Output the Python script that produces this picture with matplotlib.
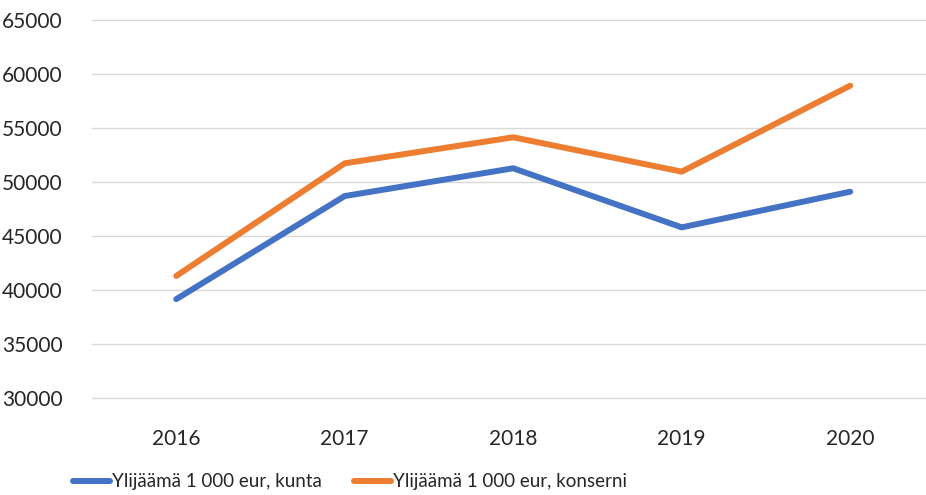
import matplotlib.pyplot as plt
from matplotlib.lines import Line2D

# Data
years = ['2016', '2017', '2018', '2019', '2020']
kunta = [39150, 48700, 51270, 45800, 49100]
konserni = [41300, 51730, 54140, 50960, 58920]
labels = ['Ylijäämä 1 000 eur, kunta', 'Ylijäämä 1 000 eur, konserni']
yticks = list(range(30000, 65001, 5000))

blue = '#4472C4'
orange = '#ED7D31'

plt.rcParams['font.family'] = ['Lato', 'DejaVu Sans']

fig = plt.figure(figsize=(9.26, 4.95), dpi=100)
ax = fig.add_axes([92 / 926, 1 - 398 / 495, 1 - 92 / 926, (398 - 20) / 495])

x = range(len(years))
ax.plot(x, kunta, color=blue, lw=4.3, solid_capstyle='round', solid_joinstyle='miter', zorder=3)
ax.plot(x, konserni, color=orange, lw=4.3, solid_capstyle='round', solid_joinstyle='miter', zorder=3)

ax.set_ylim(30000, 65000)
ax.set_xlim(-0.5, 4.45)
ax.set_yticks(yticks)
ax.set_yticklabels([str(v) for v in yticks])
ax.set_xticks(list(x))
ax.set_xticklabels(years)
ax.grid(axis='y', color='#D9D9D9', lw=1.0)
for gl in ax.get_ygridlines():
    gl.set_clip_on(False)
ax.set_axisbelow(True)
for s in ax.spines.values():
    s.set_visible(False)
ax.tick_params(axis='both', length=0, labelsize=15)
ax.tick_params(axis='y', pad=21)
ax.tick_params(axis='x', pad=22)
for t in ax.get_xticklabels() + ax.get_yticklabels():
    t.set_color('#262626')

handles = [Line2D([0], [0], color=blue, lw=4.3, solid_capstyle='round'),
           Line2D([0], [0], color=orange, lw=4.3, solid_capstyle='round')]
leg = fig.legend(handles, labels, loc='center', bbox_to_anchor=(350 / 926, 1 - 482 / 495),
                 ncol=2, frameon=False, handlelength=2.0, handletextpad=0.1,
                 columnspacing=1.7, fontsize=13.5)
for t in leg.get_texts():
    t.set_color('#262626')

fig.savefig('out.png', dpi=100)
